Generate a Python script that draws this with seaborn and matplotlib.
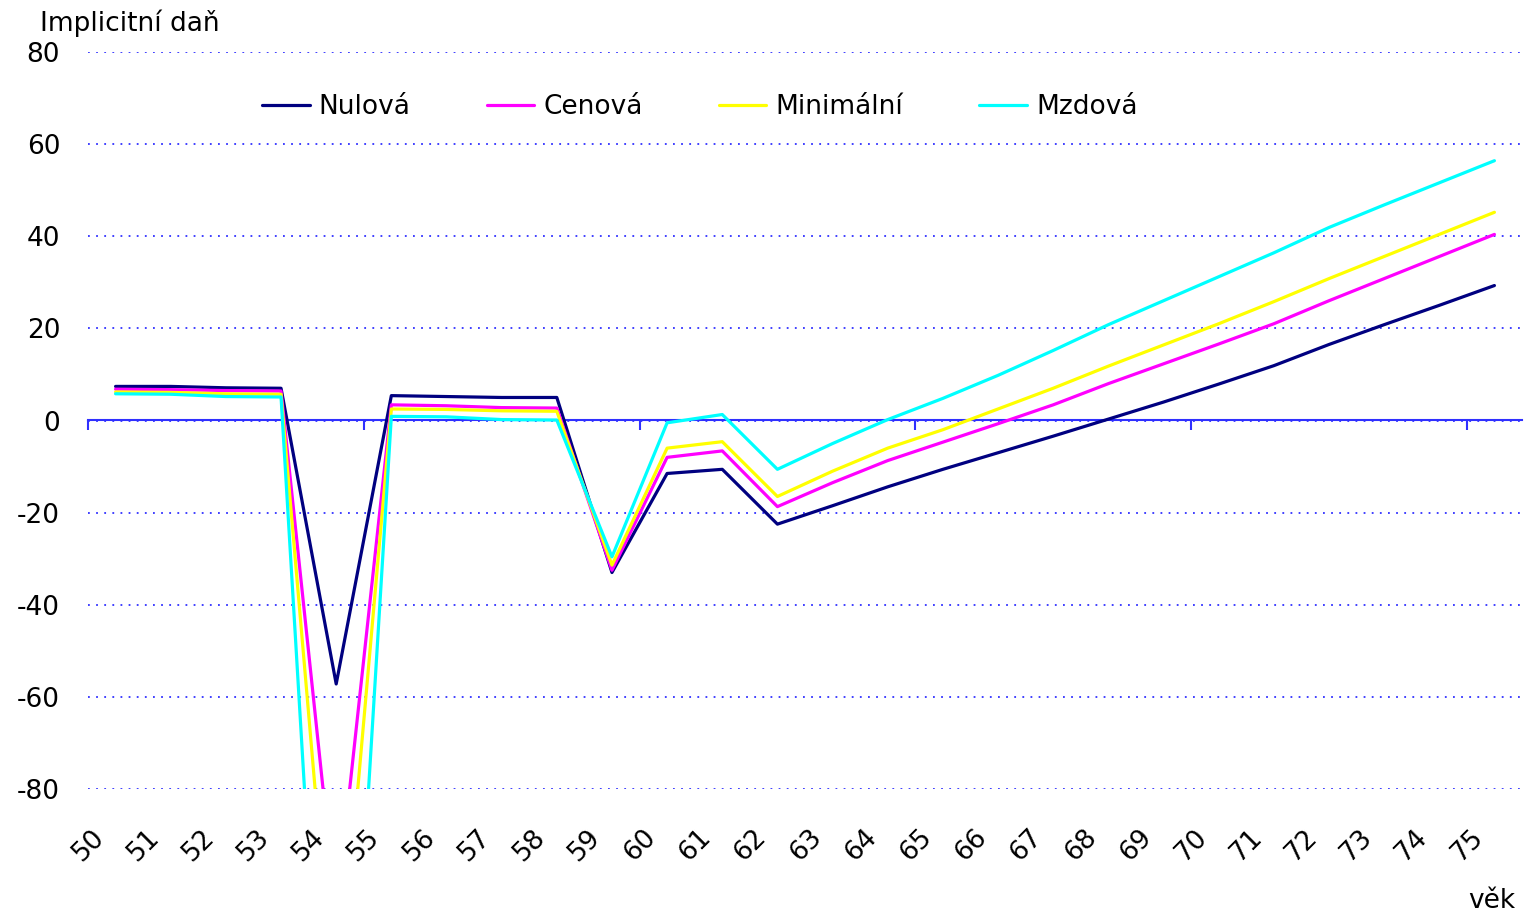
import matplotlib
matplotlib.use("Agg")
import matplotlib.pyplot as plt
import matplotlib.transforms as mtransforms
import pandas as pd
import seaborn as sns

# age categories on the x axis
AGES = [50, 51, 52, 53, 54, 55, 56, 57, 58, 59, 60, 61, 62,
        63, 64, 65, 66, 67, 68, 69, 70, 71, 72, 73, 74, 75]

# implicit tax per scenario
NULOVA = [7.4, 7.4, 7.1, 7.0, -57.2, 5.4, 5.2, 5.0, 5.0, -33.0, -11.5, -10.6, -22.5,
          -18.5, -14.4, -10.6, -7.0, -3.4, 0.3, 4.0, 7.9, 11.9, 16.5, 20.8, 25.0, 29.3]
CENOVA = [6.8, 6.7, 6.5, 6.4, -107.0, 3.4, 3.2, 2.8, 2.7, -32.5, -8.0, -6.6, -18.7,
          -13.5, -8.7, -4.7, -0.7, 3.4, 8.0, 12.3, 16.6, 21.0, 26.0, 30.8, 35.6, 40.4]
MINIMALNI = [6.2, 6.1, 5.8, 5.7, -133.0, 2.5, 2.4, 2.1, 2.0, -31.4, -6.0, -4.6, -16.5,
             -11.0, -6.0, -2.0, 2.5, 7.0, 11.8, 16.4, 21.0, 25.8, 30.8, 35.6, 40.4, 45.2]
MZDOVA = [5.8, 5.7, 5.2, 5.1, -195.0, 0.9, 0.8, 0.2, 0.1, -29.6, -0.5, 1.3, -10.6,
          -5.0, 0.2, 4.8, 9.8, 15.2, 20.8, 26.0, 31.2, 36.4, 41.9, 46.8, 51.6, 56.4]

SERIES = ["Nulová", "Cenová", "Minimální", "Mzdová"]
COLORS = ["#000080", "#FF00FF", "#FFFF00", "#00FFFF"]
Y_TICKS = [-80, -60, -40, -20, 0, 20, 40, 60, 80]

BLUE = "#3030FF"
FONT_SIZE = 19
W, H = 1528, 915

df = pd.DataFrame({
    "věk": AGES * 4,
    "daň": NULOVA + CENOVA + MINIMALNI + MZDOVA,
    "scénář": [s for s in SERIES for _ in AGES],
})

sns.set_theme(style="white")
plt.rcParams["font.family"] = ["DejaVu Sans"]
plt.rcParams["axes.unicode_minus"] = False
plt.rcParams["text.color"] = "black"

fig = plt.figure(figsize=(W / 100, H / 100), dpi=100)
ax = fig.add_axes([88 / W, 1 - 789 / H, (1522 - 88) / W, (789 - 52) / H])

sns.lineplot(
    data=df, x="věk", y="daň", hue="scénář",
    hue_order=SERIES, palette=COLORS,
    linewidth=2.3, errorbar=None, ax=ax,
)

ax.set_xlim(AGES[0] - 0.5, AGES[-1] + 0.5)
ax.set_ylim(Y_TICKS[0], Y_TICKS[-1])
ax.set_xticks(AGES)
ax.set_xticklabels([str(a) for a in AGES], rotation=45, ha="right")
ax.set_yticks(Y_TICKS)
ax.tick_params(axis="both", length=0, labelsize=FONT_SIZE, labelcolor="black")
ax.tick_params(axis="x", pad=25)
ax.tick_params(axis="y", pad=20)
for s in ax.spines.values():
    s.set_visible(False)
ax.grid(axis="y", color=BLUE, linestyle=(0, (1, 3.5)), linewidth=1.3)
ax.grid(axis="x", visible=False)
ax.set_xlabel("")
ax.set_ylabel("")

# shift rotated labels a bit, like the original
offset = mtransforms.ScaledTranslation(-6 / 100, 0, fig.dpi_scale_trans)
for lab in ax.get_xticklabels():
    lab.set_transform(lab.get_transform() + offset)

# category axis crossing at zero, with ticks every 5 categories
zero_ax = ax.secondary_xaxis(0.5)
zero_ax.set_xticks([a - 0.5 for a in AGES[::5]])
zero_ax.tick_params(axis="x", length=7, width=1.5, color=BLUE, direction="in",
                    labelbottom=False, labeltop=False)
for s in zero_ax.spines.values():
    s.set_color(BLUE)
    s.set_linewidth(1.5)

handles, labels = ax.get_legend_handles_labels()
leg = ax.legend(
    handles, labels, ncol=4, frameon=False,
    loc="center left", bbox_to_anchor=(262 / W, 1 - 107 / H),
    bbox_transform=fig.transFigure,
    handlelength=1.8, handletextpad=0.35, columnspacing=2.88,
    borderpad=0, borderaxespad=0, fontsize=FONT_SIZE,
)
for t in leg.get_texts():
    t.set_color("black")

fig.text(40 / W, 1 - 31 / H, "Implicitní daň", fontsize=FONT_SIZE, va="baseline")
fig.text(1515 / W, 1 - 908 / H, "věk", fontsize=FONT_SIZE, ha="right", va="baseline")

fig.savefig("out.png", dpi=100)
